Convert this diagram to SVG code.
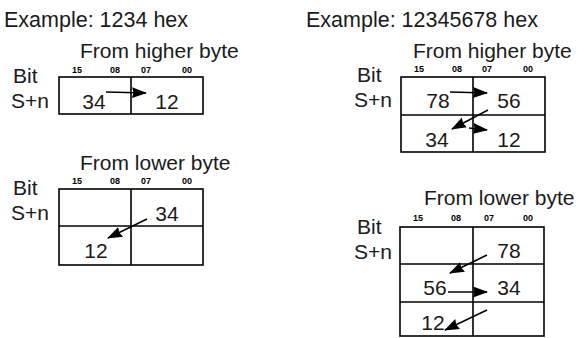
<svg xmlns="http://www.w3.org/2000/svg" width="579" height="338" viewBox="0 0 579 338">
<defs>
<style>
.t{font-family:"Liberation Sans",Arial,sans-serif;font-size:21px;fill:#1a1a1a}
.h{font-size:21.5px}
.c{text-anchor:middle}
.b{font-family:"Liberation Sans",Arial,sans-serif;font-size:9px;font-weight:bold;fill:#000;text-anchor:middle}
.box{fill:none;stroke:#000;stroke-width:1.6}
.ln{fill:none;stroke:#000;stroke-width:1.6}
.ar{fill:none;stroke:#000;stroke-width:1.5;marker-end:url(#ah)}
</style>
<marker id="ah" markerUnits="userSpaceOnUse" markerWidth="18" markerHeight="14" refX="14" refY="5.5" orient="auto">
<path d="M0,0 L15,5.5 L0,11 L1.5,5.5 z" fill="#000"/>
</marker>
</defs>
<rect width="579" height="338" fill="#fff"/>

<g id="title-left"><text class="t h" x="4" y="27">Example: 1234 hex</text></g>
<g id="title-right"><text class="t h" x="306" y="27">Example: 12345678 hex</text></g>

<g id="lt">
<text class="t" x="80" y="58">From higher byte</text>
<text class="b" x="77" y="73">15</text><text class="b" x="115" y="73">08</text><text class="b" x="146" y="73">07</text><text class="b" x="187" y="73">00</text>
<text class="t" x="13" y="83">Bit</text>
<text class="t" x="11" y="108">S+n</text>
<rect class="box" x="59" y="77" width="144" height="37"/>
<line class="ln" x1="131" y1="77" x2="131" y2="114"/>
<text class="t c" x="94" y="109">34</text>
<text class="t c" x="167" y="109">12</text>
</g>

<g id="lb">
<text class="t" x="80" y="170">From lower byte</text>
<text class="b" x="77" y="184">15</text><text class="b" x="115" y="184">08</text><text class="b" x="146" y="184">07</text><text class="b" x="187" y="184">00</text>
<text class="t" x="13" y="195">Bit</text>
<text class="t" x="11" y="220">S+n</text>
<rect class="box" x="59" y="189" width="144" height="76"/>
<line class="ln" x1="59" y1="226" x2="203" y2="226"/>
<line class="ln" x1="131" y1="189" x2="131" y2="265"/>
<text class="t c" x="167" y="221">34</text>
<text class="t c" x="96" y="258">12</text>
</g>

<g id="rt">
<text class="t" x="413" y="58">From higher byte</text>
<text class="b" x="419" y="72">15</text><text class="b" x="457" y="72">08</text><text class="b" x="487" y="72">07</text><text class="b" x="528" y="72">00</text>
<text class="t" x="357" y="82">Bit</text>
<text class="t" x="354" y="107">S+n</text>
<rect class="box" x="401" y="77" width="144" height="75"/>
<line class="ln" x1="401" y1="115" x2="545" y2="115"/>
<line class="ln" x1="473" y1="77" x2="473" y2="152"/>
<text class="t c" x="438" y="108">78</text>
<text class="t c" x="509" y="108">56</text>
<text class="t c" x="437" y="147">34</text>
<text class="t c" x="509" y="147">12</text>
</g>

<g id="rb">
<text class="t" x="424" y="205">From lower byte</text>
<text class="b" x="418" y="221">15</text><text class="b" x="456" y="221">08</text><text class="b" x="489" y="221">07</text><text class="b" x="528" y="221">00</text>
<text class="t" x="357" y="234">Bit</text>
<text class="t" x="354" y="259">S+n</text>
<rect class="box" x="400" y="227" width="144" height="109"/>
<line class="ln" x1="400" y1="264" x2="544" y2="264"/>
<line class="ln" x1="400" y1="302" x2="544" y2="302"/>
<line class="ln" x1="473" y1="227" x2="473" y2="336"/>
<text class="t c" x="509" y="258">78</text>
<text class="t c" x="435" y="295">56</text>
<text class="t c" x="509" y="295">34</text>
<text class="t c" x="433" y="330">12</text>
</g>

<g id="connectors">
<line class="ar" x1="106" y1="92" x2="146" y2="93"/>
<line class="ar" x1="147" y1="219" x2="108" y2="238"/>
<line class="ar" x1="450" y1="92" x2="487" y2="93"/>
<line class="ar" x1="488" y1="110" x2="452" y2="129"/>
<line class="ar" x1="469" y1="128" x2="487" y2="130"/>
<line class="ar" x1="487" y1="255" x2="450" y2="273"/>
<line class="ar" x1="448" y1="292" x2="487" y2="292"/>
<line class="ar" x1="487" y1="310" x2="445" y2="330"/>
</g>
</svg>
